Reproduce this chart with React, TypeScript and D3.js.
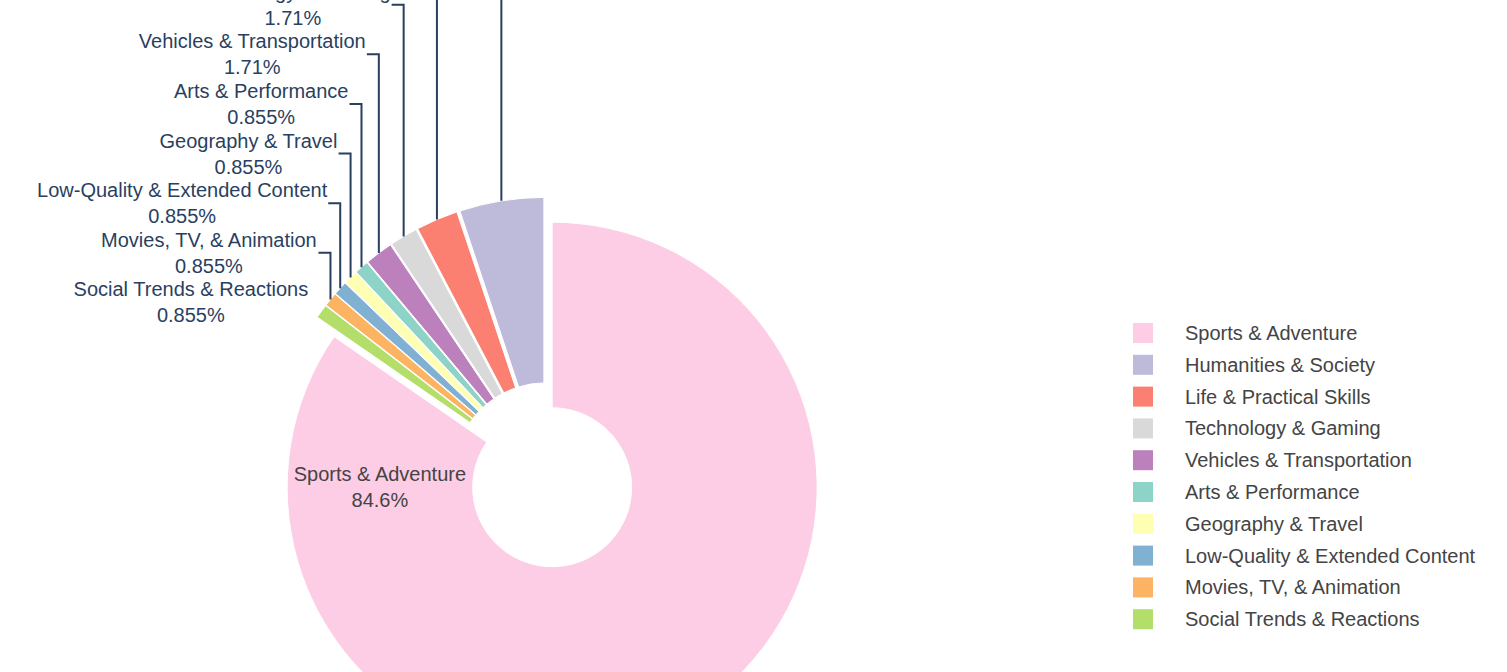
import React from "react";
import * as d3 from "d3";

const categories = [
  "Sports & Adventure",
  "Humanities & Society",
  "Life & Practical Skills",
  "Technology & Gaming",
  "Vehicles & Transportation",
  "Arts & Performance",
  "Geography & Travel",
  "Low-Quality & Extended Content",
  "Movies, TV, & Animation",
  "Social Trends & Reactions",
];
const counts = [99, 6, 3, 2, 2, 1, 1, 1, 1, 1];
const colors = [
  "#fccde5",
  "#bebada",
  "#fb8072",
  "#d9d9d9",
  "#bc80bd",
  "#8dd3c7",
  "#ffffb3",
  "#80b1d3",
  "#fdb462",
  "#b3de69",
];

const W = 1507;
const H = 672;
const CX = 546;
const CY = 475.5;
const R = 265;
const HOLE = 0.3;
const PULL = 0.05;
const ROTATION_DEG = 304.615;
const FONT = "'Liberation Sans', Arial, sans-serif";
const LABEL_COLOR = "#2a3f5f";
const TEXT_COLOR = "#444";
const LINE_H = 26;
const LABEL_GAP = 49.6;

let ctx: CanvasRenderingContext2D | null = null;
function textWidth(s: string): number {
  if (!ctx) {
    const c = document.createElement("canvas");
    ctx = c.getContext("2d");
  }
  if (!ctx) return s.length * 10;
  ctx.font = "20px 'Liberation Sans', Arial, sans-serif";
  return ctx.measureText(s).width;
}

export default function App() {
  const total = d3.sum(counts);
  const fmt = d3.format(".3~p");
  const rot = (ROTATION_DEG * Math.PI) / 180;
  const pie = d3
    .pie<number>()
    .sort(null)
    .value((d) => d)
    .startAngle(rot)
    .endAngle(rot - 2 * Math.PI);
  const arcs = pie(counts);
  const arcGen = d3.arc<d3.PieArcDatum<number>>().innerRadius(R * HOLE).outerRadius(R);
  const pullPx = R * PULL;

  const slices = arcs.map((a, i) => {
    const mid = (a.startAngle + a.endAngle) / 2;
    const ox = Math.sin(mid) * pullPx;
    const oy = -Math.cos(mid) * pullPx;
    const share = a.value / total;
    return { a, i, mid, ox, oy, share };
  });

  const outside = slices
    .filter((s) => s.share < 0.5)
    .map((s) => ({
      ...s,
      px: CX + s.ox + Math.sin(s.mid) * R,
      py: CY + s.oy - Math.cos(s.mid) * R,
    }))
    .sort((p, q) => q.py - p.py);
  let prev = Infinity;
  const placed = outside.map((s) => {
    const natural = s.py - 9;
    const ly = Math.min(natural, prev - LABEL_GAP);
    prev = ly;
    const l1 = categories[s.i];
    const l2 = fmt(s.share);
    const bw = Math.max(textWidth(l1), textWidth(l2));
    const right = s.px - 13;
    const tx = right - bw / 2;
    return { ...s, ly, pushed: ly < natural - 0.5, l1, l2, tx };
  });

  const inside = slices.filter((s) => s.share >= 0.5);

  return (
    <svg
      width={W}
      height={H}
      style={{ position: "fixed", left: 0, top: 0, background: "#fff" }}
      fontFamily={FONT}
    >
      <g>
        {slices.map((s) => (
          <path
            key={s.i}
            d={arcGen(s.a) || ""}
            transform={`translate(${CX + s.ox},${CY + s.oy})`}
            fill={colors[s.i]}
            stroke="#fff"
            strokeWidth={1}
          />
        ))}
      </g>
      <g>
        {placed.map((s) => (
          <g key={s.i}>
            {s.pushed && (
              <path
                d={`M${s.px},${s.py}V${s.ly}H${s.px - 12}`}
                fill="none"
                stroke={LABEL_COLOR}
                strokeWidth={2}
              />
            )}
            <text textAnchor="middle" fontSize={20} fill={LABEL_COLOR}>
              <tspan x={s.tx} y={s.ly - LINE_H / 2} dy="0.35em">
                {s.l1}
              </tspan>
              <tspan x={s.tx} y={s.ly + LINE_H / 2} dy="0.35em">
                {s.l2}
              </tspan>
            </text>
          </g>
        ))}
      </g>
      <g>
        {inside.map((s) => {
          const midR = (R * HOLE + R) / 2;
          const ang = (3 * Math.PI) / 2;
          const tx = CX + s.ox + Math.sin(ang) * midR;
          const ty = CY + s.oy - Math.cos(ang) * midR;
          return (
            <text key={s.i} textAnchor="middle" fontSize={20} fill={TEXT_COLOR}>
              <tspan x={tx} y={ty - LINE_H / 2} dy="0.35em">
                {categories[s.i]}
              </tspan>
              <tspan x={tx} y={ty + LINE_H / 2} dy="0.35em">
                {fmt(s.share)}
              </tspan>
            </text>
          );
        })}
      </g>
      <g transform="translate(1133,323)">
        {categories.map((c, i) => (
          <g key={c} transform={`translate(0,${i * 31.8})`}>
            <rect width={20} height={20} fill={colors[i]} />
            <text x={52} y={10} dy="0.35em" fontSize={20} fill={TEXT_COLOR}>
              {c}
            </text>
          </g>
        ))}
      </g>
    </svg>
  );
}
